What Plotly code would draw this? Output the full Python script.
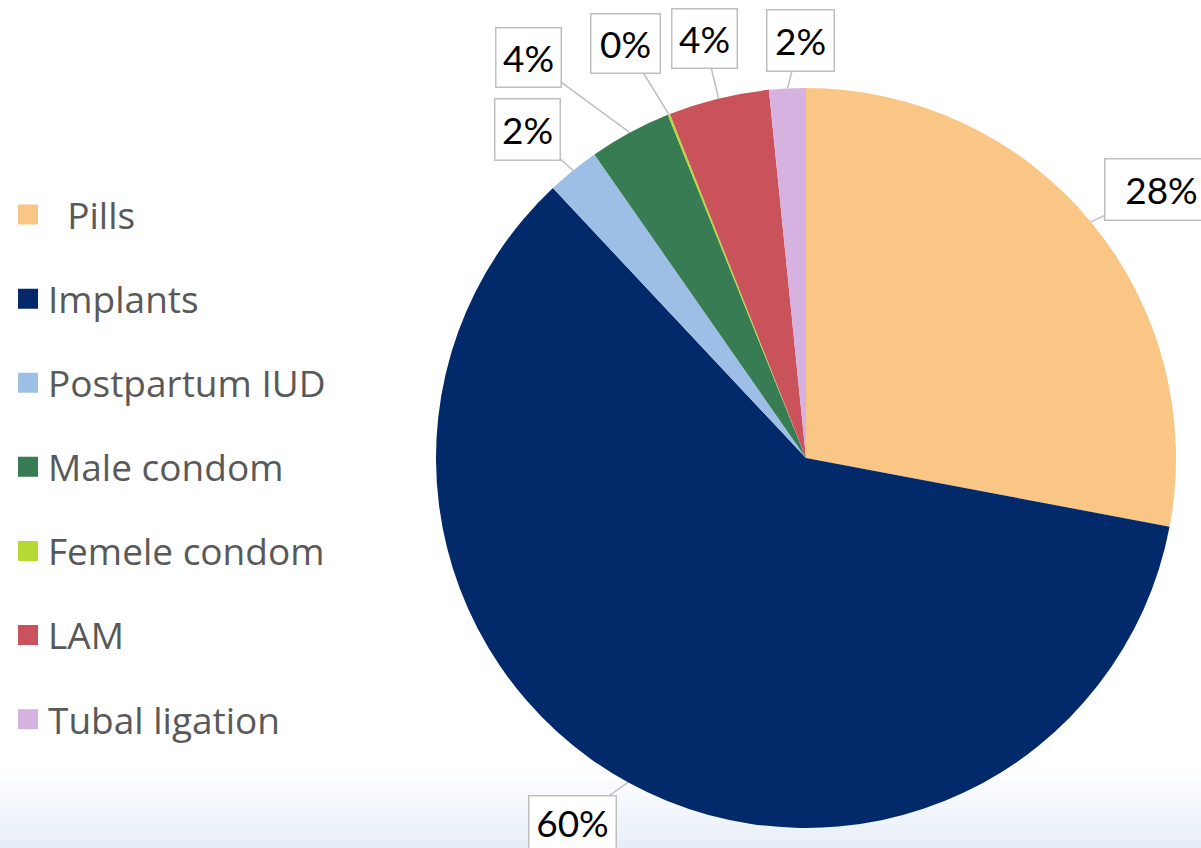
import math
import plotly.graph_objects as go

# ---- data ----
categories = [" Pills", "Implants", "Postpartum IUD", "Male condom",
              "Femele condom", "LAM", "Tubal ligation"]
values = [28.0, 60.1, 2.3, 3.6, 0.1, 4.4, 1.6]
colors = ["#F9C686", "#022A6B", "#9DBFE5", "#377C52", "#B5D935", "#C9525B", "#D6B2E0"]

# label box centres (pixel positions of the callouts)
label_pos = [(1161, 189), (572, 822), (527, 129), (528, 58), (625, 43), (704, 38), (800, 40)]
label_w = [110, 84, 62, 62, 66, 62, 64]
label_h = [58, 50, 58, 56, 56, 56, 58]

W, H = 1201, 848
CX, CY, R = 806, 458, 370

total = sum(values)
pct_text = [f"{round(v / total * 100)}%" for v in values]

fig = go.Figure()

# bottom gradient background (slide style)
n_bands = 14
y0, y1 = 770, H
for i in range(n_bands):
    t = (i + 0.5) / n_bands
    r = int(255 + (232 - 255) * t)
    g = int(255 + (238 - 255) * t)
    b = int(255 + (248 - 255) * t)
    ya = y0 + (y1 - y0) * i / n_bands
    yb = y0 + (y1 - y0) * (i + 1) / n_bands
    fig.add_shape(type="rect", xref="paper", yref="paper", x0=0, x1=1,
                  y0=1 - yb / H, y1=1 - ya / H + 0.001, line_width=0,
                  fillcolor=f"rgb({r},{g},{b})", layer="below")

fig.add_trace(go.Pie(
    labels=categories, values=values, sort=False, direction="clockwise",
    rotation=0, marker=dict(colors=colors, line=dict(width=0)),
    textinfo="none", showlegend=False, hoverinfo="label+percent",
    domain=dict(x=[(CX - R) / W, (CX + R) / W], y=[1 - (CY + R) / H, 1 - (CY - R) / H]),
))

# legend entries
for i, (cat, col) in enumerate(zip(categories, colors)):
    name = cat.replace(" ", "\u00a0\u00a0", 1) if cat.startswith(" ") else cat
    fig.add_trace(go.Scatter(
        x=[None], y=[None], mode="markers", name=name, legendgroup=f"g{i}",
        marker=dict(symbol="square", size=16, color=col, line=dict(width=4, color=col)),
        hoverinfo="skip",
    ))

# callout labels anchored at mid-angle of each slice
cum = 0.0
for i, v in enumerate(values):
    mid = (cum + v / 2) / total * 2 * math.pi
    cum += v
    px = CX + R * math.sin(mid)
    py = CY - R * math.cos(mid)
    lx, ly = label_pos[i]
    fig.add_annotation(
        x=px / W, y=1 - py / H, xref="paper", yref="paper",
        ax=lx - px, ay=ly - py, axref="pixel", ayref="pixel",
        text=pct_text[i], showarrow=True, arrowhead=0, arrowwidth=1.5,
        arrowcolor="#BFBFBF", bordercolor="#BFBFBF", borderwidth=1.5,
        bgcolor="white", width=label_w[i], height=label_h[i],
        font=dict(family="Lato, sans-serif", size=37, color="#000000"),
    )

fig.update_layout(
    width=W, height=H, margin=dict(l=0, r=0, t=0, b=0),
    paper_bgcolor="white", plot_bgcolor="rgba(0,0,0,0)",
    xaxis=dict(visible=False), yaxis=dict(visible=False),
    legend=dict(x=8 / W, y=1 - 184 / H, xanchor="left", yanchor="top",
                font=dict(family="Open Sans, sans-serif", size=37, color="#595959"),
                tracegroupgap=33, bgcolor="rgba(0,0,0,0)", itemclick=False),
    showlegend=True,
)

fig.write_html("out.html")
